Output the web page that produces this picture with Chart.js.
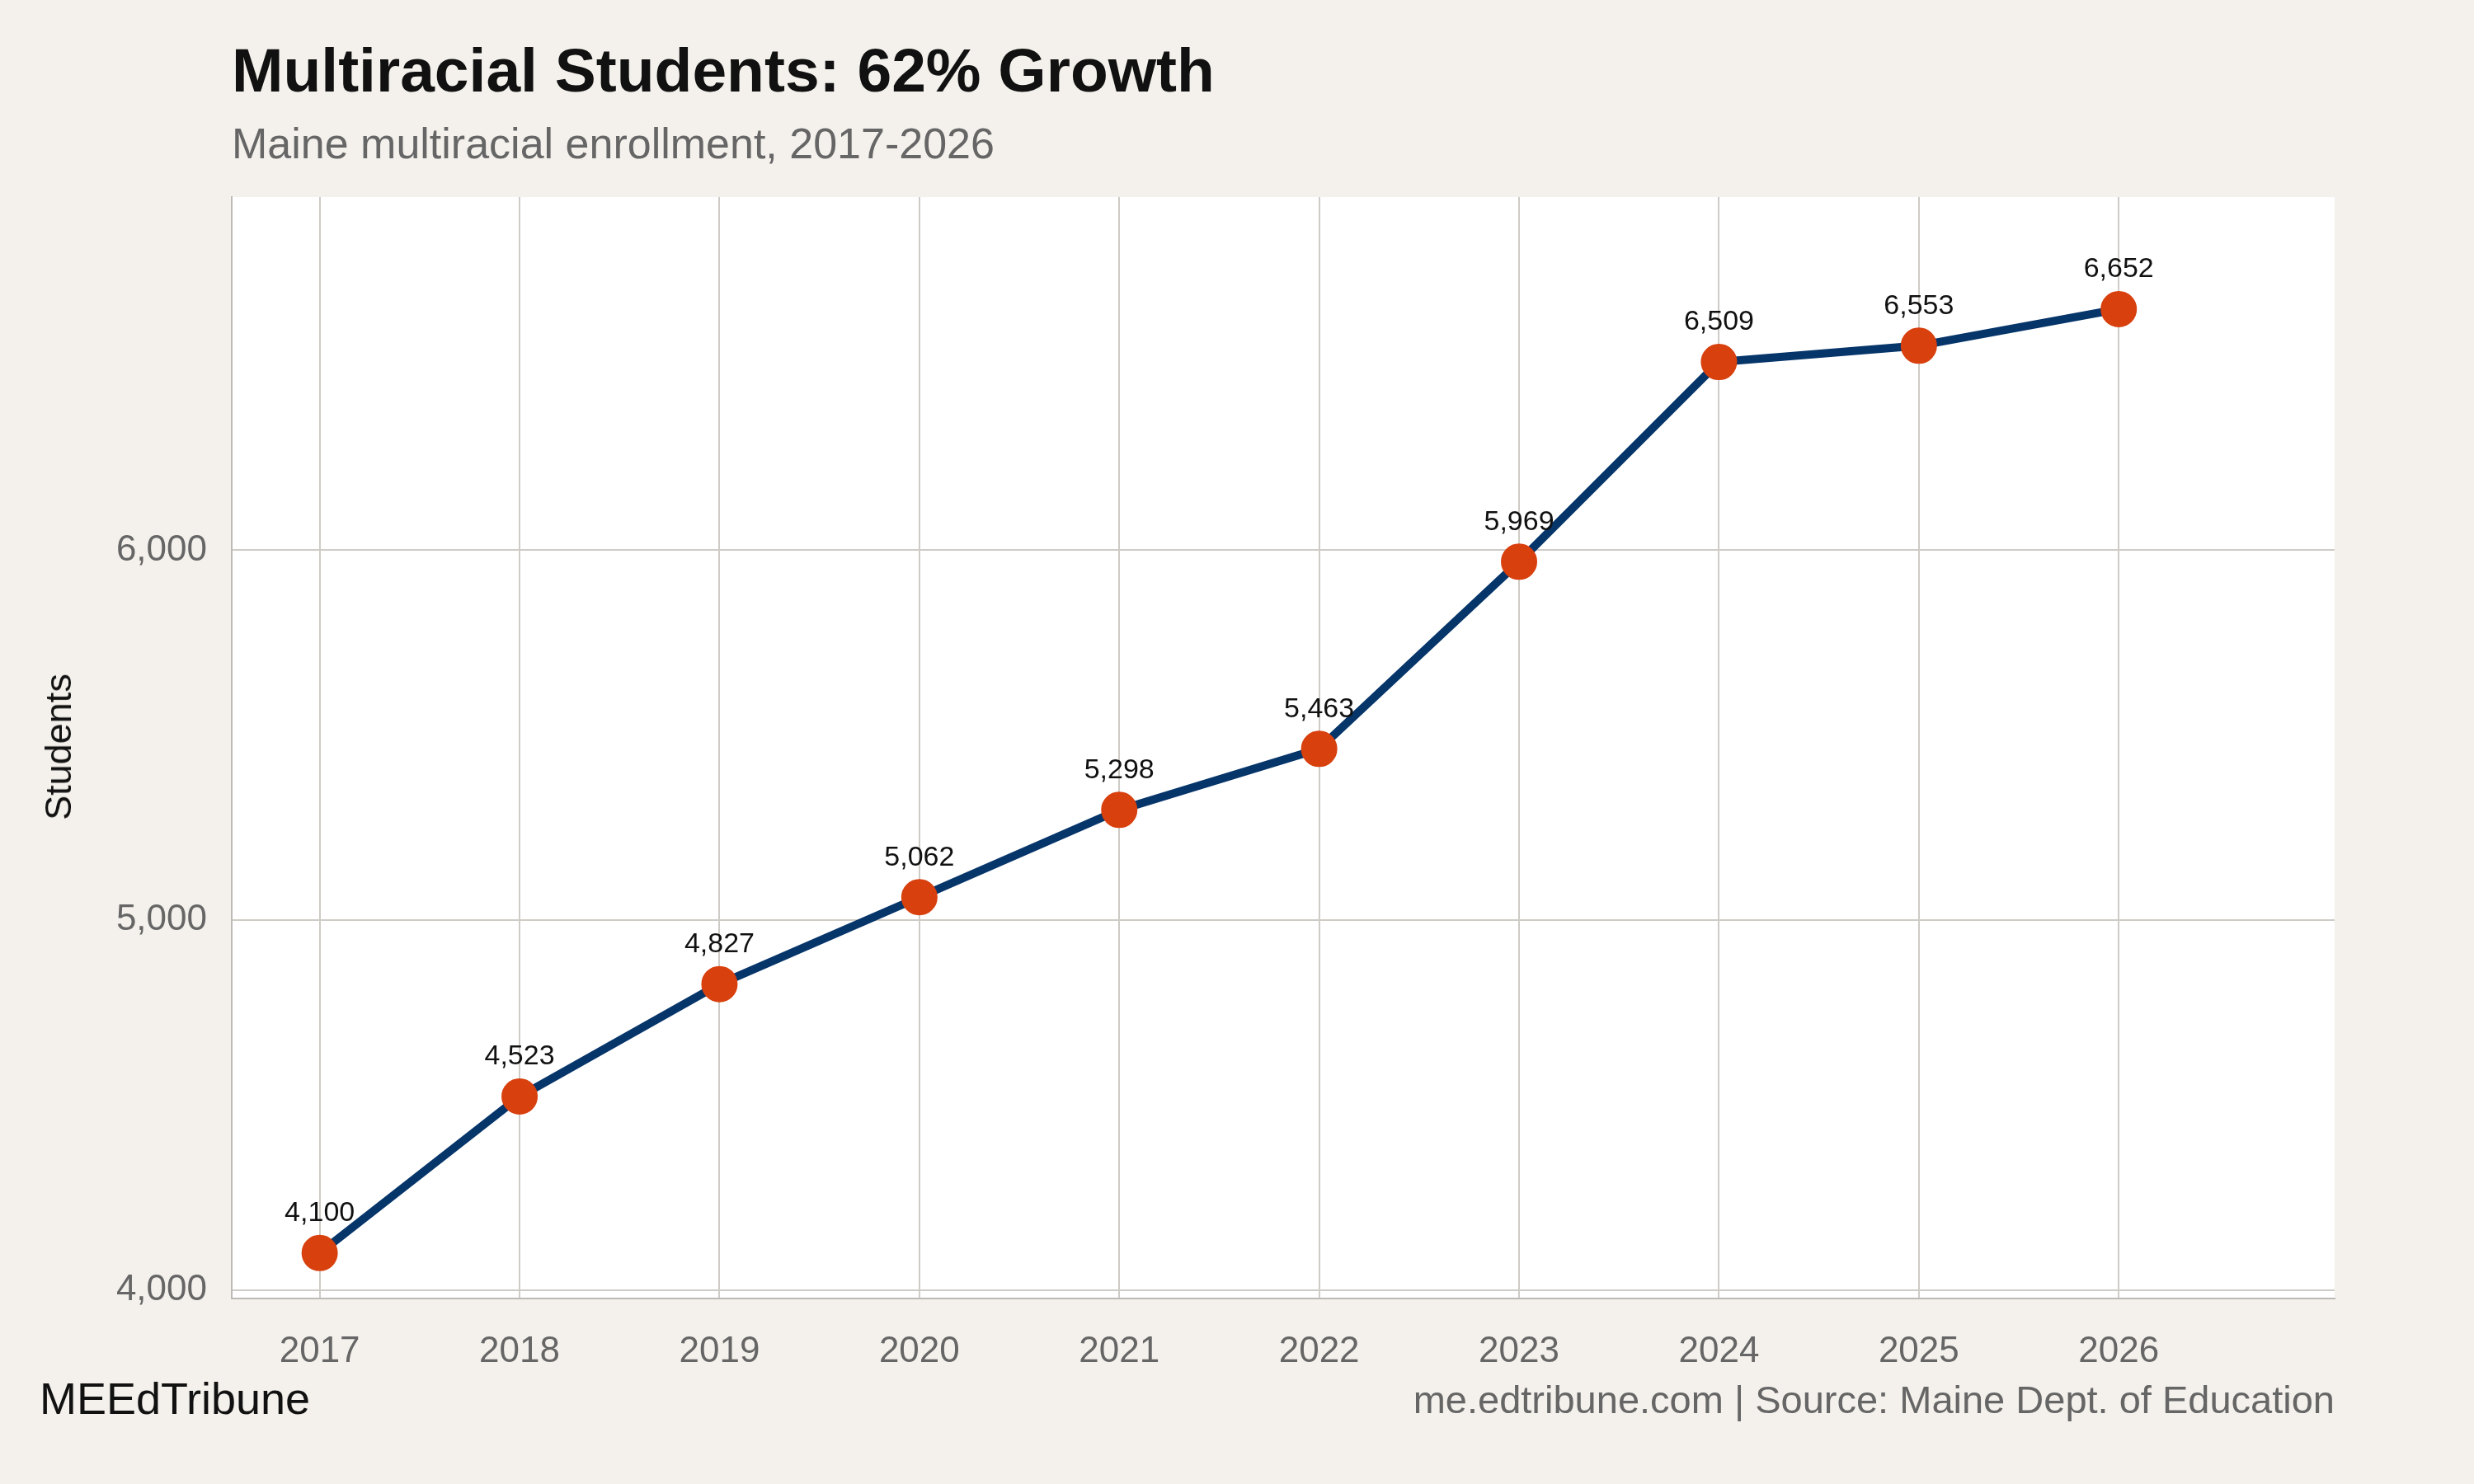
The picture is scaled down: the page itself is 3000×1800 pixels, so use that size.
<!DOCTYPE html>
<html><head><meta charset="utf-8">
<script src="https://cdn.jsdelivr.net/npm/chart.js@4"></script>
<style>
html,body{margin:0;padding:0;background:#f4f1ec;}
#wrap{position:relative;width:3000px;height:1800px;font-family:"Liberation Sans",Arial,sans-serif;}
canvas{position:absolute;left:0;top:0;}
.t{position:absolute;white-space:nowrap;}
</style></head><body>
<div id="wrap">
<canvas id="c" width="3000" height="1800"></canvas>
<div class="t" style="left:281px;top:42px;font-size:75px;font-weight:bold;color:#111;">Multiracial Students: 62% Growth</div>
<div class="t" style="left:281px;top:144px;font-size:52px;color:#666;">Maine multiracial enrollment, 2017-2026</div>
<div class="t" style="left:71px;top:906px;font-size:45px;color:#111;transform:translate(-50%,-50%) rotate(-90deg);">Students</div>
<div class="t" style="left:48px;top:1665px;font-size:54px;color:#111;">MEEdTribune</div>
<div class="t" style="right:169px;top:1670px;font-size:47px;color:#666;">me.edtribune.com | Source: Maine Dept. of Education</div>
</div>
<script>
const years = [2017,2018,2019,2020,2021,2022,2023,2024,2025,2026];
const students = [4100,4523,4827,5062,5298,5463,5969,6509,6553,6652];
const yTicks = [4000,5000,6000];

const labelPlugin = {
  id:'labels',
  afterDatasetsDraw(chart){
    const ctx = chart.ctx, meta = chart.getDatasetMeta(0);
    ctx.save();
    ctx.font = '34px "Liberation Sans", Arial, sans-serif';
    ctx.fillStyle = '#111'; ctx.textAlign='center'; ctx.textBaseline='middle';
    meta.data.forEach((p,i)=>ctx.fillText(students[i].toLocaleString('en-US'), p.x, p.y-48));
    ctx.restore();
  }
};
const bgPlugin = {
  id:'bg',
  beforeDraw(chart){
    const a = chart.chartArea, ctx = chart.ctx;
    ctx.save(); ctx.fillStyle='#ffffff'; ctx.fillRect(a.left,a.top,a.right-a.left,a.bottom-a.top); ctx.restore();
  }
};

new Chart(document.getElementById('c'), {
  type:'line',
  data:{datasets:[{
    data: years.map((y,i)=>({x:y,y:students[i]})),
    borderColor:'#06356a', borderWidth:10,
    pointBackgroundColor:'#d8400e', pointBorderColor:'#d8400e',
    pointRadius:17, pointHoverRadius:17, tension:0
  }]},
  options:{
    responsive:false, animation:false, devicePixelRatio:1,
    layout:{padding:{left:0,top:239,right:169,bottom:0}},
    plugins:{legend:{display:false},tooltip:{enabled:false}},
    scales:{
      x:{type:'linear', min:2016.56, max:2027.08,
        afterBuildTicks(s){ s.ticks = years.map(v=>({value:v})); },
        afterFit(s){ s.height = 225; },
        ticks:{font:{size:44,family:'"Liberation Sans", Arial'},color:'#666',padding:38,callback:v=>String(v)},
        grid:{color:'#cfcbc6',lineWidth:2,drawTicks:false},
        border:{display:true,color:'#bdb9b4',width:2}
      },
      y:{min:3977, max:6955,
        afterBuildTicks(s){ s.ticks = yTicks.map(v=>({value:v})); },
        afterFit(s){ s.width = 281; },
        ticks:{font:{size:44,family:'"Liberation Sans", Arial'},color:'#666',padding:30,callback:v=>v.toLocaleString('en-US')},
        grid:{color:'#cfcbc6',lineWidth:2,drawTicks:false},
        border:{display:true,color:'#bdb9b4',width:2}
      }
    }
  },
  plugins:[bgPlugin,labelPlugin]
});
</script>
</body></html>
